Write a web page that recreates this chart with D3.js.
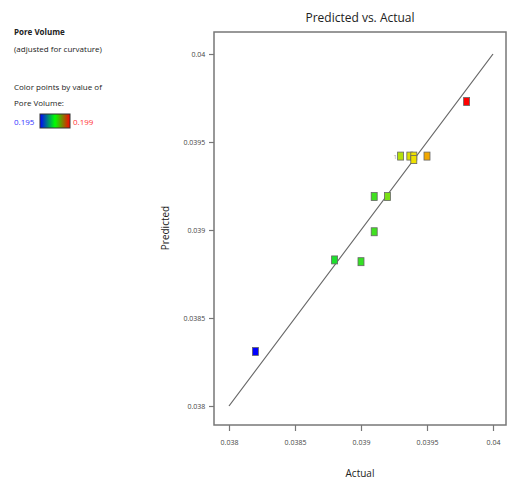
<!DOCTYPE html>
<html>
<head>
<meta charset="utf-8">
<script src="https://cdn.jsdelivr.net/npm/d3@7"></script>
<style>
  body { margin: 0; background: #fff; }
  svg text { font-family: "Open Sans", sans-serif; }
</style>
</head>
<body>
<div id="chart"></div>
<script>
// Chart data
const actual    = [0.0382, 0.0388, 0.0390, 0.0391, 0.0391, 0.0392, 0.0393, 0.03937, 0.0394, 0.0394, 0.0395, 0.0398];
const predicted = [0.03831, 0.03883, 0.03882, 0.03899, 0.03919, 0.03919, 0.03942, 0.03942, 0.03942, 0.03940, 0.03942, 0.03973];
const xTicks = [0.038, 0.0385, 0.039, 0.0395, 0.04];
const yTicks = [0.038, 0.0385, 0.039, 0.0395, 0.04];
const legendRange = ["0.195", "0.199"];

const width = 508;
const height = 480;

const svg = d3.select("#chart").append("svg")
    .attr("width", width)
    .attr("height", height);

// Scales
const x = d3.scaleLinear().domain([0.038, 0.04]).range([229, 493]);
const y = d3.scaleLinear().domain([0.038, 0.04]).range([406, 54]);
const color = d3.scaleLinear()
    .domain([0.0382, 0.0387, 0.0391, 0.0394, 0.0398])
    .range(["#0000ff", "#10e030", "#40e020", "#eee000", "#ff0000"]);

// Frame
svg.append("rect")
    .attr("x", 214).attr("y", 32)
    .attr("width", 292).attr("height", 393)
    .attr("fill", "none")
    .attr("stroke", "#777")
    .attr("stroke-width", 1.5);

// Axes
const xAxis = svg.append("g")
    .attr("transform", "translate(0,425)")
    .call(d3.axisBottom(x).tickValues(xTicks).tickSize(6).tickFormat(d3.format("")));
const yAxis = svg.append("g")
    .attr("transform", "translate(214,0)")
    .call(d3.axisLeft(y).tickValues(yTicks).tickSize(5).tickFormat(d3.format("")));

[xAxis, yAxis].forEach(g => {
    g.select(".domain").remove();
    g.selectAll(".tick line").attr("stroke", "#777").attr("stroke-width", 1.2);
    g.selectAll(".tick text").style("font-size", "7px").style("fill", "#444");
});
xAxis.selectAll(".tick text").attr("dy", "1.6em");
yAxis.selectAll(".tick text").attr("dx", "-0.1em");

// Diagonal reference line
svg.append("line")
    .attr("x1", x(0.038)).attr("y1", y(0.038))
    .attr("x2", x(0.04)).attr("y2", y(0.04))
    .attr("stroke", "#666")
    .attr("stroke-width", 1.2);

// Points
const points = actual.map((a, i) => ({ a, p: predicted[i] }));
svg.selectAll(".pt")
    .data(points)
    .enter()
    .append("rect")
    .attr("class", "pt")
    .attr("x", d => x(d.a) - 3)
    .attr("y", d => y(d.p) - 4)
    .attr("width", 6)
    .attr("height", 8)
    .attr("fill", d => color(d.a))
    .attr("stroke", "#666")
    .attr("stroke-width", 0.8);

// small point label
svg.append("text")
    .attr("x", x(0.0393) - 7).attr("y", y(0.03942) + 3)
    .style("font-size", "6px").style("fill", "#999")
    .text("1");

// Titles
svg.append("text")
    .attr("x", 360).attr("y", 22)
    .attr("text-anchor", "middle")
    .style("font-size", "12px").style("fill", "#222")
    .text("Predicted vs. Actual");

svg.append("text")
    .attr("x", 360).attr("y", 477)
    .attr("text-anchor", "middle")
    .style("font-size", "10px").style("fill", "#222")
    .text("Actual");

svg.append("text")
    .attr("transform", "rotate(-90)")
    .attr("x", -228).attr("y", 169)
    .attr("text-anchor", "middle")
    .style("font-size", "10px").style("fill", "#222")
    .text("Predicted");

// Legend
const legend = svg.append("g").style("fill", "#222");
legend.append("text")
    .attr("x", 14).attr("y", 35)
    .style("font-size", "8px").style("font-weight", "bold")
    .text("Pore Volume");
legend.append("text")
    .attr("x", 14).attr("y", 52)
    .style("font-size", "8px")
    .text("(adjusted for curvature)");
legend.append("text")
    .attr("x", 14).attr("y", 90)
    .style("font-size", "8px")
    .text("Color points by value of");
legend.append("text")
    .attr("x", 14).attr("y", 106)
    .style("font-size", "8px")
    .text("Pore Volume:");

const grad = svg.append("defs").append("linearGradient")
    .attr("id", "grad");
grad.append("stop").attr("offset", "0%").attr("stop-color", "#0000ff");
grad.append("stop").attr("offset", "50%").attr("stop-color", "#00ff00");
grad.append("stop").attr("offset", "100%").attr("stop-color", "#ff0000");

legend.append("rect")
    .attr("x", 40).attr("y", 114)
    .attr("width", 30).attr("height", 14)
    .attr("fill", "url(#grad)")
    .attr("stroke", "#333")
    .attr("stroke-width", 1);
legend.append("text")
    .attr("x", 14).attr("y", 125)
    .style("font-size", "8px").style("fill", "#3333ff")
    .text(legendRange[0]);
legend.append("text")
    .attr("x", 73).attr("y", 125)
    .style("font-size", "8px").style("fill", "#ff3333")
    .text(legendRange[1]);
</script>
</body>
</html>
